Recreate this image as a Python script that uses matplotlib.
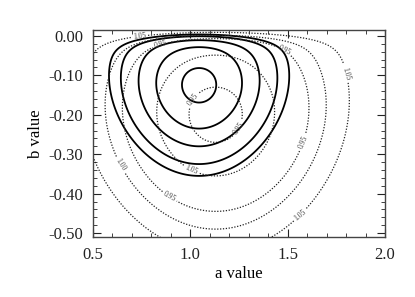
import numpy as np
import matplotlib
matplotlib.use("Agg")
import matplotlib.pyplot as plt
from matplotlib.ticker import MultipleLocator, FormatStrFormatter

# ----------------------------------------------------------
# Values
# ----------------------------------------------------------

a_range = [0.5, 2.0]
b_range = [-0.51, 0.015]

# solid family: centre, a/b aspect, taper, contour radii (in b units)
solid_center = (1.045, -0.125)
solid_aspect = 2.0
solid_taper = 0.5
solid_levels = [0.044, 0.11, 0.155, 0.20, 0.23]

# dotted family
dot_center = (1.13, -0.20)
dot_aspect = 1.95
dot_taper = 0.3
dot_levels = [0.07, 0.155, 0.245, 0.29, 0.35]
dot_labels = ["0.95", "1.05", "0.95", "1.00", "1.05"]

# steep wall near b = 0
wall_height = 0.15
wall_top = 0.01
wall_width = 0.016

# where the dotted contour labels sit (a, b)
label_spots = [
    (0.74, 0.006), (0.85, -0.03), (0.97, -0.14), (1.27, -0.245),
    (1.47, -0.05), (1.77, -0.10), (1.60, -0.275), (1.60, -0.48),
    (0.99, -0.357), (0.90, -0.40), (0.62, -0.335),
]


def egg_field(A, B, center, aspect, taper):
    a0, b0 = center
    db = B - b0
    ka = aspect * (1 + taper * db)
    wall = wall_height * np.exp((B - wall_top) / wall_width)
    return np.sqrt(((A - a0) / ka) ** 2 + db ** 2) + wall


a = np.linspace(0.45, 2.05, 400)
b = np.linspace(-0.65, 0.02, 400)
A, B = np.meshgrid(a, b)

solid_z = egg_field(A, B, solid_center, solid_aspect, solid_taper)
dot_z = egg_field(A, B, dot_center, dot_aspect, dot_taper)

# ----------------------------------------------------------
# Plot
# ----------------------------------------------------------

plt.rcParams["font.family"] = ["Liberation Serif", "DejaVu Serif"]

fig = plt.figure(figsize=(4.15, 2.97), dpi=100)
ax = fig.add_axes([0.224, 0.202, 0.704, 0.697])

ax.contour(A, B, solid_z, levels=solid_levels,
           colors="black", linewidths=1.3, linestyles="solid")

cs = ax.contour(A, B, dot_z, levels=dot_levels,
                colors="#222222", linewidths=0.9)
cs.set_linestyle((0, (1, 1.3)))

fmt = dict(zip(cs.levels, dot_labels))
ax.clabel(cs, fmt=fmt, fontsize=5.5, colors="#444444",
          inline=True, inline_spacing=1, manual=label_spots)

ax.set_xlim(a_range)
ax.set_ylim(b_range)

ax.xaxis.set_major_locator(MultipleLocator(0.5))
ax.xaxis.set_minor_locator(MultipleLocator(0.1))
ax.yaxis.set_major_locator(MultipleLocator(0.1))
ax.yaxis.set_minor_locator(MultipleLocator(0.02))
ax.xaxis.set_major_formatter(FormatStrFormatter("%.1f"))
ax.yaxis.set_major_formatter(FormatStrFormatter("%.2f"))

ax.tick_params(which="both", direction="in", top=True, right=True,
               labelsize=12, colors="#222222", pad=7)
ax.tick_params(which="major", length=6, width=0.8)
ax.tick_params(which="minor", length=3, width=0.6)

for s in ax.spines.values():
    s.set_linewidth(1.0)
    s.set_color("#444444")

ax.set_xlabel("a value", fontsize=12, labelpad=2)
ax.set_ylabel("b value", fontsize=12, labelpad=3)

fig.savefig("out.png", dpi=100)
plt.close(fig)
